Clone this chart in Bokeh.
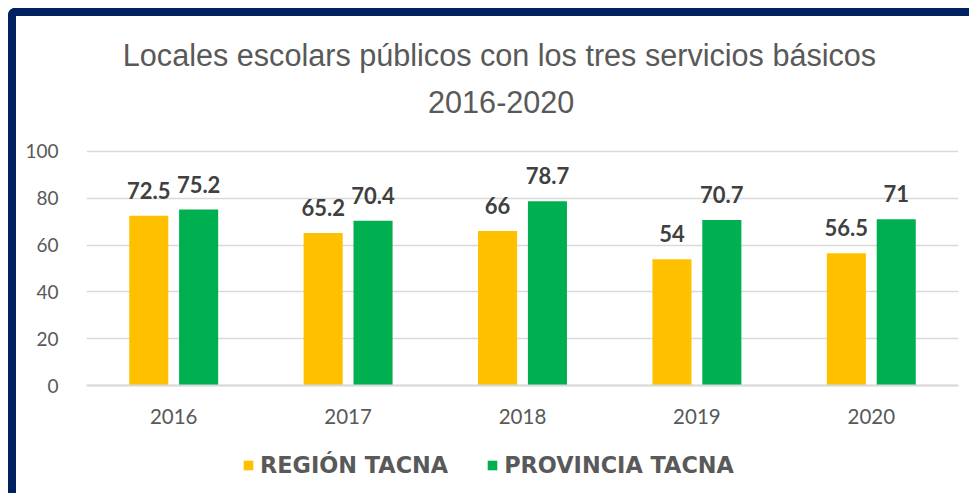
from bokeh.plotting import figure
from bokeh.models import (ColumnDataSource, FactorRange, Range1d, LabelSet, Label,
                          Legend, LegendItem, FixedTicker, CategoricalAxis)
from bokeh.core.properties import value
from bokeh.transform import dodge
from bokeh.embed import file_html
from bokeh.resources import INLINE

years = ["2016", "2017", "2018", "2019", "2020"]
region = [72.5, 65.2, 66, 54, 56.5]
provincia = [75.2, 70.4, 78.7, 70.7, 71]
region_labels = ["72.5", "65.2", "66", "54", "56.5"]
provincia_labels = ["75.2", "70.4", "78.7", "70.7", "71"]
y_ticks = [0, 20, 40, 60, 80, 100]
title_lines = ["Locales escolars públicos con los tres servicios básicos", "2016-2020"]
series_names = ["REGIÓN TACNA", "PROVINCIA TACNA"]

YELLOW = "#FFC000"
GREEN = "#00B050"
TEXT = "#595959"
LABEL = "#404040"
GRID = "#D9D9D9"
NAVY = "#002060"

src = ColumnDataSource(dict(year=years, region=region, provincia=provincia,
                            rl=region_labels, pl=provincia_labels))

# the frame spans the full canvas height; y range chosen so 0..100 sits where the reference has it
p = figure(width=961, height=485, x_range=FactorRange(factors=years, range_padding=0),
           y_range=Range1d(-49.57, 157.69), output_backend="svg", toolbar_location=None,
           title_location=None, x_axis_location=None,
           min_border_left=70, min_border_right=19, min_border_top=0, min_border_bottom=0)
p.outline_line_color = None
p.background_fill_color = "white"
p.border_fill_color = "white"
p.styles = {"margin-left": "8px", "margin-top": "8px",
            "border-left": f"8px solid {NAVY}", "border-top": f"8px solid {NAVY}",
            "border-top-left-radius": "7px"}

off = 0.143
w = 0.224
r1 = p.vbar(x=dodge("year", -off, range=p.x_range), top="region", width=w, source=src,
            fill_color=YELLOW, line_color=None)
r2 = p.vbar(x=dodge("year", off, range=p.x_range), top="provincia", width=w, source=src,
            fill_color=GREEN, line_color=None)

for col, fld, o in (("rl", "region", -off), ("pl", "provincia", off)):
    p.add_layout(LabelSet(x=dodge("year", o, range=p.x_range), y=fld, text=col, source=src,
                          text_align="center", text_baseline="alphabetic", y_offset=17,
                          text_font=value("Lato"), text_font_style="bold",
                          text_font_size="22px", text_color=LABEL))

# x axis pinned at y = 0
xaxis = CategoricalAxis(fixed_location=0)
xaxis.axis_line_color = GRID
xaxis.axis_line_width = 2
xaxis.major_tick_line_color = None
xaxis.minor_tick_line_color = None
xaxis.major_label_text_font = "Lato"
xaxis.major_label_text_font_size = "20.5px"
xaxis.major_label_text_color = TEXT
xaxis.major_label_standoff = 17
p.add_layout(xaxis, "below")

p.yaxis.ticker = FixedTicker(ticks=y_ticks)
p.yaxis.axis_line_color = None
p.yaxis.major_tick_line_color = None
p.yaxis.minor_tick_line_color = None
p.yaxis.major_label_text_font = "Lato"
p.yaxis.major_label_text_font_size = "19px"
p.yaxis.major_label_text_color = TEXT
p.yaxis.major_label_standoff = 22

p.xgrid.grid_line_color = None
p.ygrid.ticker = FixedTicker(ticks=y_ticks)
p.ygrid.grid_line_color = GRID
p.ygrid.grid_line_width = 1.5

# title
p.add_layout(Label(x=2.368, y=134.0, text=title_lines[0], text_align="center",
                   text_font="Liberation Sans", text_font_size="30.6px", text_color=TEXT))
p.add_layout(Label(x=2.378, y=116.3, text=title_lines[1], text_align="center",
                   text_font="Liberation Sans", text_font_size="30.6px", text_color=TEXT))

legend = Legend(items=[LegendItem(label=series_names[0], renderers=[r1]),
                       LegendItem(label=series_names[1], renderers=[r2])],
                orientation="horizontal", location=(156, 23),
                glyph_width=12, glyph_height=12, label_standoff=6, spacing=38,
                label_height=24, padding=0, margin=0,
                border_line_color=None, background_fill_alpha=0,
                label_text_font="DejaVu Sans", label_text_font_style="bold",
                label_text_font_size="22.4px", label_text_color=TEXT)
p.add_layout(legend, "center")

open("out.html", "w").write(file_html(p, INLINE))
